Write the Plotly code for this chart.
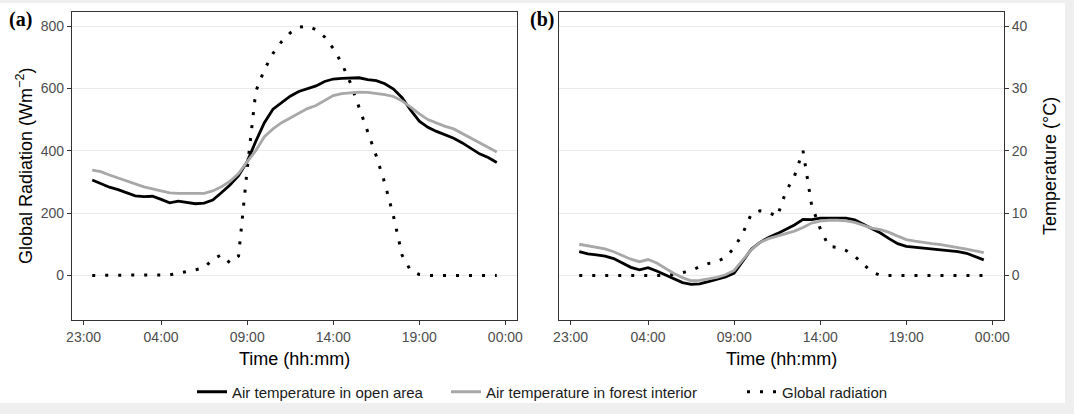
import numpy as np
import plotly.graph_objects as go

W, H = 1074, 414

# Half-hourly time steps (hours after midnight)
hours = list(np.arange(0, 24, 0.5))

# Panel (a): global radiation (W m-2) and air temperature (deg C)
rad_a = [0, 0, 0, 0, 0, 0, 0, 0, 0, 2, 7, 13, 19, 24, 52, 66,
         40, 62, 340, 590, 660, 712, 750, 778, 796, 800, 788, 765, 728, 680, 617, 540,
         463, 383, 295, 190, 65, 15, 3, 0, 0, 0, 0, 0, 0, 0, 0, 0]
open_a = [15.3, 14.75, 14.15, 13.75, 13.3, 12.75, 12.65, 12.7, 12.2, 11.65, 11.9, 11.7,
          11.5, 11.6, 12.1, 13.25, 14.5, 16.0, 18.25, 21.5, 24.5, 26.65, 27.75, 28.75,
          29.5, 30.0, 30.4, 31.1, 31.5, 31.6, 31.65, 31.7, 31.4, 31.25, 30.75, 29.9,
          28.5, 26.5, 24.75, 23.75, 23.1, 22.6, 22.0, 21.25, 20.4, 19.5, 18.9, 18.1]
forest_a = [16.9, 16.65, 16.1, 15.6, 15.15, 14.65, 14.2, 13.9, 13.6, 13.25, 13.15, 13.15,
            13.1, 13.15, 13.55, 14.2, 15.1, 16.35, 18.25, 20.0, 22.25, 23.5, 24.5, 25.25,
            26.0, 26.75, 27.25, 28.0, 28.85, 29.15, 29.3, 29.4, 29.35, 29.2, 29.0, 28.7,
            28.0, 27.0, 25.9, 25.0, 24.4, 23.9, 23.5, 22.75, 22.0, 21.25, 20.5, 19.8]

# Panel (b)
rad_b = [0, 0, 0, 0, 0, 0, 0, 0, 0, 0, 0, 3, 8, 15, 28, 38,
         44, 58, 88, 135, 198, 207, 203, 188, 268, 318, 400, 225, 150, 93, 90, 80,
         62, 35, 11, 0, 0, 0, 0, 0, 0, 0, 0, 0, 0, 0, 0, 0]
open_b = [3.8, 3.45, 3.3, 3.1, 2.7, 2.0, 1.3, 0.9, 1.25, 0.7, 0.1, -0.6,
          -1.15, -1.45, -1.35, -1.0, -0.65, -0.25, 0.35, 2.3, 4.2, 5.3, 6.1, 6.7,
          7.4, 8.1, 9.0, 8.95, 9.2, 9.2, 9.3, 9.2, 8.9, 8.2, 7.5, 6.8,
          5.9, 5.1, 4.65, 4.5, 4.4, 4.3, 4.15, 4.0, 3.8, 3.55, 3.0, 2.5]
forest_b = [5.0, 4.75, 4.55, 4.25, 3.8, 3.2, 2.6, 2.2, 2.55, 2.0, 1.1, 0.3,
            -0.35, -0.85, -0.8, -0.55, -0.3, 0.1, 0.8, 2.5, 4.1, 5.3, 5.9, 6.3,
            6.7, 7.1, 7.7, 8.4, 8.7, 8.85, 8.85, 8.75, 8.5, 8.1, 7.6, 7.35,
            6.9, 6.3, 5.75, 5.5, 5.25, 5.1, 4.95, 4.75, 4.45, 4.2, 3.95, 3.65]

time_ticks = [-0.5, 4, 9, 14, 19, 24]
time_labels = ["23:00", "04:00", "09:00", "14:00", "19:00", "00:00"]
rad_ticks = [0, 200, 400, 600, 800]
temp_ticks = [0, 10, 20, 30, 40]

RAD_RANGE = [-143, 845]
TEMP_RANGE = [RAD_RANGE[0] / 20, RAD_RANGE[1] / 20]
X_RANGE = [-1.175, 24.675]

BLACK = "#000000"
GREY = "#a8a8a8"
DOT = "3px,10px"
FONT = "Liberation Sans, Arial, sans-serif"


def px(x):
    return x / W


def py(y):
    return 1 - y / H


fig = go.Figure()

# radiation first so the temperature lines sit on top
fig.add_trace(go.Scatter(x=hours, y=rad_a, xaxis="x", yaxis="y", mode="lines",
                         line=dict(color=BLACK, width=3, dash=DOT),
                         name="Global radiation", legend="legend3"))
fig.add_trace(go.Scatter(x=hours, y=rad_b, xaxis="x2", yaxis="y2", mode="lines",
                         line=dict(color=BLACK, width=3, dash=DOT),
                         showlegend=False))

fig.add_trace(go.Scatter(x=hours, y=open_a, xaxis="x", yaxis="y3", mode="lines",
                         line=dict(color=BLACK, width=2.8),
                         name="Air temperature in open area", legend="legend"))
fig.add_trace(go.Scatter(x=hours, y=forest_a, xaxis="x", yaxis="y3", mode="lines",
                         line=dict(color=GREY, width=2.8),
                         name="Air temperature in forest interior", legend="legend2"))
fig.add_trace(go.Scatter(x=hours, y=open_b, xaxis="x2", yaxis="y4", mode="lines",
                         line=dict(color=BLACK, width=2.8), showlegend=False))
fig.add_trace(go.Scatter(x=hours, y=forest_b, xaxis="x2", yaxis="y4", mode="lines",
                         line=dict(color=GREY, width=2.8), showlegend=False))

tickfont = dict(family=FONT, size=14, color="#4d4d4d")
xcommon = dict(range=X_RANGE, tickmode="array", tickvals=time_ticks, ticktext=time_labels,
               ticks="outside", ticklen=4, tickwidth=1, tickcolor="#333333",
               showline=True, mirror=True, linecolor="#333333", linewidth=1.3,
               showgrid=False, zeroline=False, tickfont=tickfont, automargin=False)
ydom = [py(320), py(12)]
ycommon = dict(domain=ydom, range=RAD_RANGE, tickmode="array", tickvals=rad_ticks,
               showline=True, mirror=True, linecolor="#333333", linewidth=1.3,
               showgrid=True, gridcolor="#ebebeb", gridwidth=1, zeroline=False,
               tickfont=tickfont, automargin=False)

legend_common = dict(orientation="h", yanchor="middle", y=py(392), xanchor="left",
                     bgcolor="rgba(0,0,0,0)", font=dict(family=FONT, size=15, color="#1a1a1a"))

fig.update_layout(
    width=W, height=H,
    margin=dict(l=0, r=0, t=0, b=0),
    template="none",
    paper_bgcolor="#efefef",
    plot_bgcolor="#ffffff",
    xaxis=dict(domain=[px(72), px(517)], anchor="y", **xcommon),
    xaxis2=dict(domain=[px(559), px(1004)], anchor="y2", **xcommon),
    yaxis=dict(anchor="x", ticks="outside", ticklen=4, tickwidth=1, tickcolor="#333333",
               **ycommon),
    yaxis2=dict(anchor="x2", ticks="", showticklabels=False, **ycommon),
    yaxis3=dict(anchor="x", overlaying="y", range=TEMP_RANGE, visible=False),
    yaxis4=dict(anchor="x2", overlaying="y2", side="right", range=TEMP_RANGE,
                tickmode="array", tickvals=temp_ticks, ticks="outside", ticklen=4,
                tickwidth=1, tickcolor="#333333", showline=False, showgrid=False,
                zeroline=False, tickfont=tickfont, automargin=False),
    legend=dict(x=px(192), **legend_common),
    legend2=dict(x=px(446), **legend_common),
    legend3=dict(x=px(742), **legend_common),
    shapes=[dict(type="rect", xref="paper", yref="paper", layer="below",
                 x0=px(0), x1=px(1065), y0=py(403), y1=py(3),
                 fillcolor="#ffffff", line=dict(width=0))],
    showlegend=True,
)

title_font = dict(family=FONT, size=18, color="#000000")
annotations = [
    dict(text="Global Radiation (Wm<sup>−2</sup>)", x=px(24), y=py(166), textangle=-90,
         font=title_font),
    dict(text="Temperature (°C)", x=px(1050), y=py(166), textangle=-90, font=title_font),
    dict(text="Time (hh:mm)", x=px(294.5), y=py(359), font=title_font),
    dict(text="Time (hh:mm)", x=px(781.5), y=py(359), font=title_font),
    dict(text="<b>(a)</b>", x=px(20), y=py(20), font=dict(family="Liberation Serif, serif",
                                                          size=20, color="#000000")),
    dict(text="<b>(b)</b>", x=px(542), y=py(20), font=dict(family="Liberation Serif, serif",
                                                           size=20, color="#000000")),
]
for a in annotations:
    a.update(xref="paper", yref="paper", showarrow=False, xanchor="center", yanchor="middle")
fig.update_layout(annotations=annotations)

fig.write_html("out.html")
